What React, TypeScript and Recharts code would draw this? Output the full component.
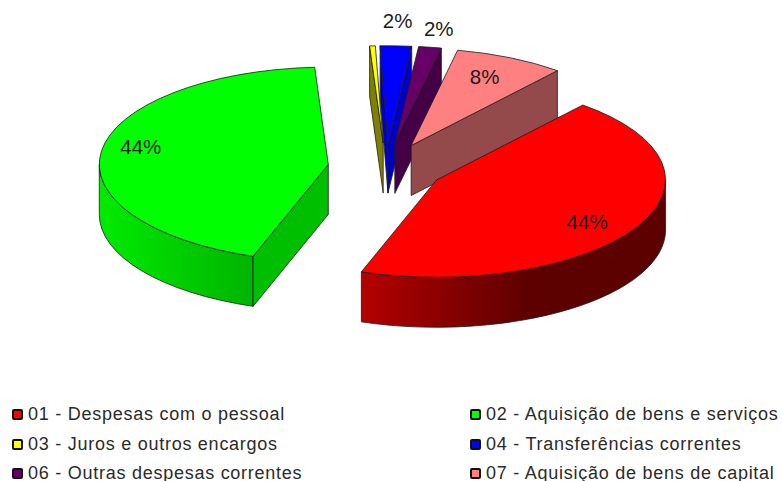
import { PieChart, Pie, Legend } from "recharts";

// draw order runs clockwise from the top so that nearer slices paint last
const categories = [
  "03 - Juros e outros encargos",
  "04 - Transferências correntes",
  "06 - Outras despesas correntes",
  "07 - Aquisição de bens de capital",
  "01 - Despesas com o pessoal",
  "02 - Aquisição de bens e serviços",
];
const shares = [0.4, 2.2, 1.6, 7.77, 44.3, 43.73];
const colors = ["#ffff00", "#0000ff", "#660066", "#ff8080", "#ff0000", "#00ff00"];
const wallShades = [0.5, 0.8, 0.67, 0.58, 0.7, 0.75];
const labelNudges = [[0, 0], [0, -4], [1, 2], [-6, 1], [-9, 3], [-6, -7]];

const chartData = categories.map((name, i) => ({ name, value: shares[i], fill: colors[i], idx: i }));

const TILT = 0.425;
const DEPTH = 50;
const EXPLODE = 0.254;
const RAD = Math.PI / 180;

const shade = (hex: string, f: number) => {
  const n = parseInt(hex.slice(1), 16);
  const c = [(n >> 16) & 255, (n >> 8) & 255, n & 255].map((v) => Math.round(v * f));
  return `rgb(${c.join(",")})`;
};

function Wedge(props: any) {
  const { cx, cy, outerRadius: rx, startAngle: a, endAngle: b, fill, idx } = props;
  const ry = rx * TILT;
  const mid = ((a + b) / 2) * RAD;
  const ax = cx + rx * EXPLODE * Math.cos(mid);
  const ay = cy - ry * EXPLODE * Math.sin(mid);
  const pt = (deg: number, dy = 0): [number, number] => [
    ax + rx * Math.cos(deg * RAD),
    ay - ry * Math.sin(deg * RAD) + dy,
  ];
  const arcTo = (from: number, to: number, sweep: number, dy = 0) => {
    const [x1, y1] = pt(to, dy);
    return `A${rx} ${ry} 0 ${Math.abs(from - to) > 180 ? 1 : 0} ${sweep} ${x1} ${y1}`;
  };
  const line = { stroke: "#1c1c1c", strokeWidth: 0.8, strokeLinejoin: "round" as const };
  const wallFill = shade(fill, wallShades[idx]);
  const edge = (deg: number) => {
    const [x1, y1] = pt(deg);
    return `M${ax} ${ay}L${x1} ${y1}V${y1 + DEPTH}L${ax} ${ay + DEPTH}Z`;
  };

  const rimStart = Math.min(a, 0);
  const rimEnd = Math.max(b, -180);
  const gradId = `rim-${idx}`;

  return (
    <g>
      <defs>
        <linearGradient id={gradId} gradientUnits="userSpaceOnUse" x1={ax - rx} x2={ax + rx} y1={0} y2={0}>
          <stop offset="0%" stopColor={shade(fill, 0.92)} />
          <stop offset="33%" stopColor={shade(fill, 0.71)} />
          <stop offset="70%" stopColor={shade(fill, 0.37)} />
          <stop offset="100%" stopColor={shade(fill, 0.36)} />
        </linearGradient>
      </defs>
      {rimStart > rimEnd && (
        <path
          d={`M${pt(rimStart).join(" ")}${arcTo(rimStart, rimEnd, 1)}V${pt(rimEnd)[1] + DEPTH}${arcTo(rimEnd, rimStart, 0, DEPTH)}Z`}
          fill={`url(#${gradId})`}
          {...line}
        />
      )}
      {Math.cos(a * RAD) < 0 && <path d={edge(a)} fill={wallFill} {...line} />}
      {Math.cos(b * RAD) > 0 && <path d={edge(b)} fill={wallFill} {...line} />}
      <path d={`M${ax} ${ay}L${pt(a).join(" ")}${arcTo(a, b, 1)}Z`} fill={fill} {...line} />
    </g>
  );
}

function sliceLabel(props: any) {
  const { cx, cy, outerRadius: rx, midAngle, value, index } = props;
  if (value < 1) return null;
  const ry = rx * TILT;
  const m = midAngle * RAD;
  const reach = EXPLODE + (value < 5 ? 1.22 : 0.8);
  const [dx, dy] = labelNudges[index];
  return (
    <text
      x={cx + rx * reach * Math.cos(m) + dx}
      y={cy - ry * reach * Math.sin(m) + dy}
      textAnchor="middle"
      dominantBaseline="central"
      fontFamily="Liberation Sans"
      fontSize={20.5}
      fill="#1c1c1c"
    >
      {Math.round(value)}%
    </text>
  );
}

function LegendGrid() {
  const ordered = chartData.slice().sort((p, q) => p.name.localeCompare(q.name));
  return (
    <div
      style={{
        display: "grid",
        gridTemplateColumns: "458px 312px",
        gridAutoRows: "29.5px",
        marginLeft: 12,
        height: 81,
        overflow: "hidden",
        fontFamily: "Liberation Sans",
        fontSize: 18,
        letterSpacing: 0.74,
        color: "#2b2b2b",
        whiteSpace: "nowrap",
      }}
    >
      {ordered.map((d) => (
        <div key={d.name} style={{ display: "flex", alignItems: "center" }}>
          <span
            style={{
              width: 7,
              height: 7,
              border: "2px solid #111",
              borderRadius: 2,
              background: d.fill,
              marginRight: 5,
              flex: "none",
            }}
          />
          {d.name}
        </div>
      ))}
    </div>
  );
}

export default function App() {
  return (
    <div style={{ position: "absolute", left: 0, top: 0, width: 782, height: 481, overflow: "hidden", background: "#fff" }}>
      <PieChart width={782} height={481} margin={{ top: 0, right: 0, bottom: 0, left: 0 }}>
        <Pie
          data={chartData}
          dataKey="value"
          nameKey="name"
          cx={385.9}
          cy={167.8}
          outerRadius={229}
          startAngle={93.4}
          endAngle={-266.6}
          isAnimationActive={false}
          labelLine={false}
          label={sliceLabel}
          shape={Wedge}
          inactiveShape={Wedge}
          activeShape={Wedge}
        />
        <Legend
          content={LegendGrid}
          wrapperStyle={{ position: "absolute", left: 0, top: 400, width: 782, height: 81 }}
        />
      </PieChart>
    </div>
  );
}
